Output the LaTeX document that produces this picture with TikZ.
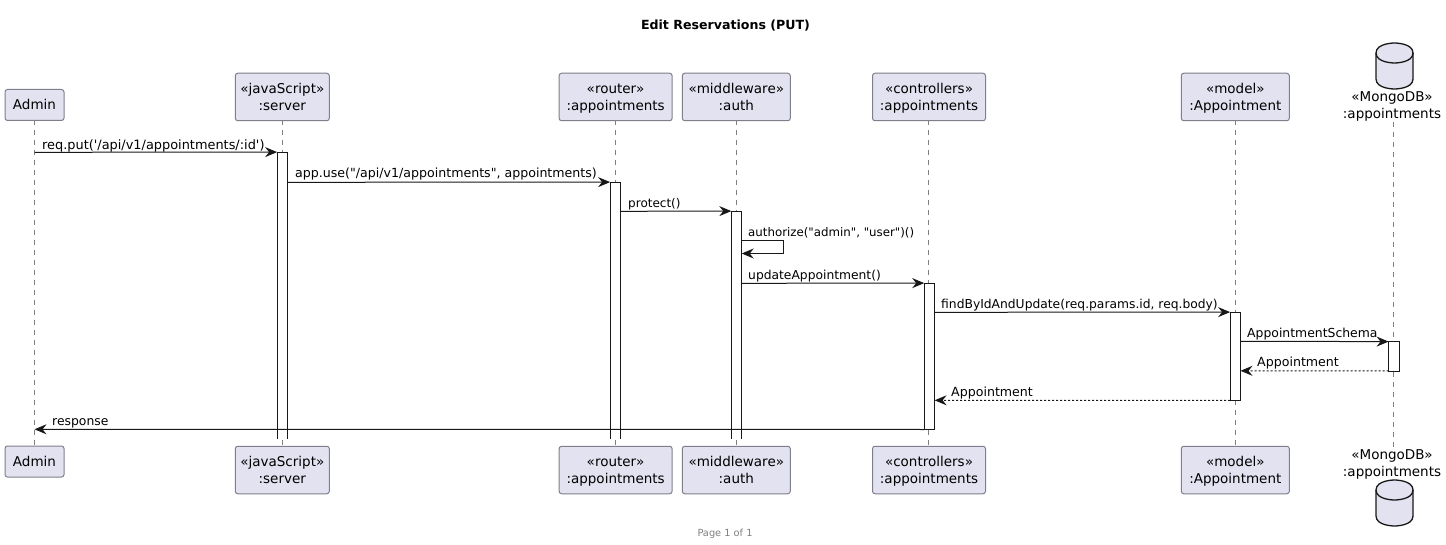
\documentclass[tikz,border=0pt]{standalone}
\usepackage{fontspec}
\setmainfont{DejaVu Sans}[Ligatures=TeXOff]
\usetikzlibrary{arrows.meta}
\definecolor{partfill}{HTML}{E2E2F0}
\definecolor{partline}{HTML}{7F7F8C}
\definecolor{lifeline}{HTML}{808080}
\definecolor{msgline}{HTML}{181818}
\tikzset{
  part/.style={draw=partline, fill=partfill, rounded corners=2.5pt, line width=1pt, minimum height=31pt, inner sep=0pt, text=black, font=\fontsize{13.5}{17}\selectfont},
  stacked/.style={part, minimum height=47.5pt},
  dbtext/.style={inner sep=0pt, font=\fontsize{13.5}{17}\selectfont},
  dbshape/.style={draw=msgline, fill=partfill, line width=1.3pt},
  life/.style={lifeline, dash pattern=on 5pt off 5pt, line width=0.8pt},
  barbody/.style={fill=white, inner sep=0pt, minimum width=10pt},
  barline/.style={draw=msgline, line width=1pt},
  msg/.style={msgline, line width=1pt, -{Stealth[length=12pt,width=10pt,inset=4pt]}},
  ret/.style={msg, dash pattern=on 2pt off 2pt},
  lbl/.style={inner sep=0pt, anchor=base west, font=\fontsize{#1}{15}\selectfont},
  lbl/.default=12.4,
}
\newcommand{\parttext}[1]{\raisebox{-4.9pt}[0pt][0pt]{\begin{tabular}{@{}c@{}}#1\end{tabular}}}
\begin{document}
\begin{tikzpicture}[x=1pt, y=-1pt]
\useasboundingbox (0,0) rectangle (1446,545);
\node (title) at (725.5,25.5) {\fontsize{12.6}{15}\selectfont\bfseries Edit Reservations (PUT)};
\node[inner sep=0pt, text=gray] (pagenum) at (725,533.5) {\fontsize{9.8}{12}\selectfont Page 1 of 1};
% lifelines
\coordinate (ltop1) at (34,120);
\coordinate (lbot1) at (34,447);
\coordinate (ltop2) at (282,120);
\coordinate (lbot2) at (282,447);
\coordinate (ltop3) at (615.3,120);
\coordinate (lbot3) at (615.3,447);
\coordinate (ltop4) at (736.5,120);
\coordinate (lbot4) at (736.5,447);
\coordinate (ltop5) at (928.3,120);
\coordinate (lbot5) at (928.3,447);
\coordinate (ltop6) at (1235.3,120);
\coordinate (lbot6) at (1235.3,447);
\coordinate (ltop7) at (1393.3,122);
\coordinate (lbot7) at (1393.3,447);
\foreach \i in {1,...,7} {
  \draw[life] (ltop\i) -- (lbot\i);
}
% top row
\node[part, minimum width=59pt] (admin) at (34.5,105) {\parttext{Admin}};
\node[stacked, minimum width=94pt] (server) at (282.3,97) {\parttext{«javaScript»\\:server}};
\node[stacked, minimum width=113pt] (router) at (615.6,97) {\parttext{«router»\\:appointments}};
\node[stacked, minimum width=108pt] (auth) at (736.3,97) {\parttext{«middleware»\\:auth}};
\node[stacked, minimum width=113pt] (ctrl) at (929,97) {\parttext{«controllers»\\:appointments}};
\node[stacked, minimum width=108pt] (model) at (1235.3,97) {\parttext{«model»\\:Appointment}};
\node[dbtext] (dbname) at (1392,105) {\parttext{«MongoDB»\\:appointments}};
% bottom row
\node[part, minimum width=59pt] (adminb) at (34.5,461.5) {\parttext{Admin}};
\node[stacked, minimum width=94pt] (serverb) at (282.3,470) {\parttext{«javaScript»\\:server}};
\node[stacked, minimum width=113pt] (routerb) at (615.6,470) {\parttext{«router»\\:appointments}};
\node[stacked, minimum width=108pt] (authb) at (736.3,470) {\parttext{«middleware»\\:auth}};
\node[stacked, minimum width=113pt] (ctrlb) at (929,470) {\parttext{«controllers»\\:appointments}};
\node[stacked, minimum width=108pt] (modelb) at (1235.3,470) {\parttext{«model»\\:Appointment}};
\node[dbtext] (dbnameb) at (1392,463.2) {\parttext{«MongoDB»\\:appointments}};
% database drums
\foreach \cy in {43,480} {
  \draw[dbshape] (1376,\cy+10) .. controls (1376,\cy) and (1394.5,\cy) .. (1394.5,\cy) .. controls (1394.5,\cy) and (1413,\cy) .. (1413,\cy+10) -- (1413,\cy+36) .. controls (1413,\cy+46) and (1394.5,\cy+46) .. (1394.5,\cy+46) .. controls (1394.5,\cy+46) and (1376,\cy+46) .. (1376,\cy+36) -- cycle;
  \draw[dbshape, fill=none] (1376,\cy+10) .. controls (1376,\cy+20) and (1394.5,\cy+20) .. (1394.5,\cy+20) .. controls (1394.5,\cy+20) and (1413,\cy+20) .. (1413,\cy+10);
}
% activation bars
\node[barbody, minimum height=286pt] (barserver) at (282.3,295.3) {};
\node[barbody, minimum height=256pt] (barrouter) at (615.3,310.3) {};
\node[barbody, minimum height=227pt] (barauth) at (736.5,324.8) {};
\node[barbody, minimum height=146pt] (barctrl) at (929.4,356.3) {};
\node[barbody, minimum height=88pt] (barmodel) at (1235.3,356.3) {};
\node[barbody, minimum height=29pt] (bardb) at (1393.8,356.3) {};
\draw[barline] (barserver.south west) -- (barserver.north west) -- (barserver.north east) -- (barserver.south east);
\draw[barline] (barrouter.south west) -- (barrouter.north west) -- (barrouter.north east) -- (barrouter.south east);
\draw[barline] (barauth.south west) -- (barauth.north west) -- (barauth.north east) -- (barauth.south east);
\draw[barline] (barctrl.south west) rectangle (barctrl.north east);
\draw[barline] (barmodel.south west) rectangle (barmodel.north east);
\draw[barline] (bardb.south west) rectangle (bardb.north east);
% messages
\draw[msg] (admin.south |- 0,152.3) -- (barserver.north west);
\draw[msg] (barserver.east |- 0,182.3) -- (barrouter.north west);
\draw[msg] (barrouter.east |- 0,211.3) -- (barauth.north west);
\draw[msg] (barauth.east |- 0,240.5) -- ++(42,0) -- ++(0,13) -- (barauth.east |- 0,253.5);
\draw[msg] (barauth.east |- 0,283.3) -- (barctrl.north west);
\draw[msg] (barctrl.east |- 0,312.3) -- (barmodel.north west);
\draw[msg] (barmodel.east |- 0,341.3) -- (bardb.north west);
\draw[ret] (bardb.south west) -- (barmodel.east |- 0,370.8);
\draw[ret] (barmodel.south west) -- (barctrl.east |- 0,400.3);
\draw[msg] (barctrl.south west) -- (admin.south |- 0,429.3);
% labels
\node[lbl=12.9] (m1) at (42,149.2) {req.put('/api/v1/appointments/:id')};
\node[lbl=12.6] (m2) at (295,177.7) {app.use("/api/v1/appointments", appointments)};
\node[lbl=12] (m3) at (628,207.7) {protect()};
\node[lbl=11.8] (m4) at (748,236.7) {authorize("admin", "user")()};
\node[lbl=12.3] (m5) at (748,279.7) {updateAppointment()};
\node[lbl=12.3] (m6) at (941,308.7) {findByIdAndUpdate(req.params.id, req.body)};
\node[lbl] (m7) at (1247,337.7) {AppointmentSchema};
\node[lbl=12.6] (m8) at (1257,366.7) {Appointment};
\node[lbl=12.6] (m9) at (951,396.7) {Appointment};
\node[lbl] (m10) at (52,425.7) {response};
\end{tikzpicture}
\end{document}
